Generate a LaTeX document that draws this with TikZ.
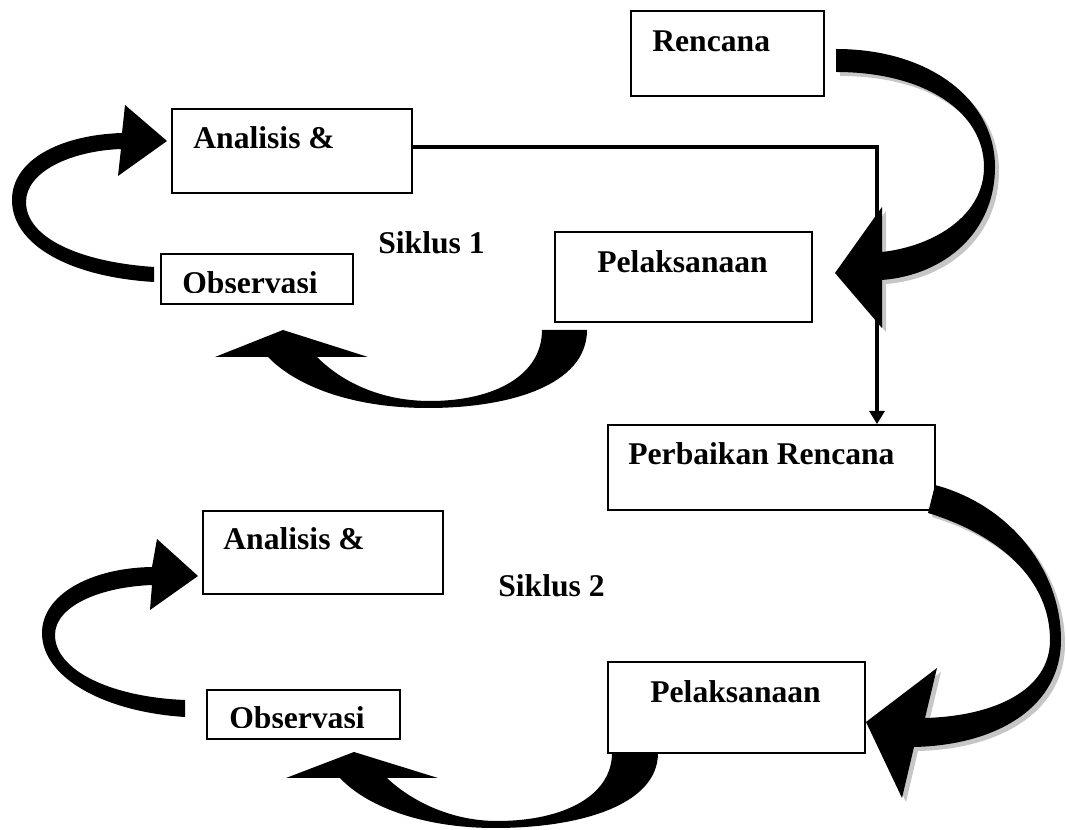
\documentclass[tikz,border=0pt]{standalone}
\usepackage{fontspec}
\setmainfont{Liberation Serif}
\usetikzlibrary{arrows.meta,fit}

\def\bendRA{(836,49) .. controls (930,49) and (995,100) .. (995,167) .. controls (995,232) and (945,275) .. (882,280) -- (882,328) -- (835,273) -- (882,207) -- (882,252) .. controls (935,246) and (984,215) .. (984,167) .. controls (984,112) and (925,72) .. (836,72) -- cycle}
\def\bendRB{(935,485) .. controls (1010,505) and (1061,570) .. (1061,640) .. controls (1061,705) and (1000,745) .. (914,747) -- (902,798) -- (866,722) -- (937,668) -- (925,718) .. controls (995,716) and (1050,690) .. (1050,640) .. controls (1050,580) and (1000,535) .. (928,513) -- cycle}

\begin{document}
\begin{tikzpicture}[x=0.02cm,y=-0.02cm,
    box/.style={draw,line width=1pt,inner sep=0pt},
    lbl/.style={anchor=base west,inner sep=0pt,font=\fontsize{18}{21}\selectfont\bfseries},
    conn/.style={line width=2pt,-{Triangle[width=8.5pt,length=7.5pt]}},
    shade/.style={fill=gray!45,shift={(4,4)}}]

\useasboundingbox (0,0) rectangle (1066,830);

\node[box,fit={(631,11) (824,96)}] (ren) {};
\node[box,fit={(172,109) (412,193)}] (ana1) {};
\node[box,fit={(161,254) (353,304)}] (obs1) {};
\node[box,fit={(555,232) (812,322)}] (pel1) {};
\node[box,fit={(608,425) (935,510)}] (perb) {};
\node[box,fit={(203,511) (443,594)}] (ana2) {};
\node[box,fit={(207,690) (400,739)}] (obs2) {};
\node[box,fit={(608,662) (865,753)}] (pel2) {};

\node[lbl] (tren) at (652,52) {Rencana};
\node[lbl] (tana1) at (193,149) {Analisis \&};
\node[lbl] (tpel1) at (597,273) {Pelaksanaan};
\node[lbl] (tsik1) at (378,254) {Siklus 1};
\node[lbl] (tperb) at (628,465) {Perbaikan Rencana};
\node[lbl] (tana2) at (223,550) {Analisis \&};
\node[lbl] (tsik2) at (498,597) {Siklus 2};
\node[lbl] (tpel2) at (650,703) {Pelaksanaan};
\begin{scope}
  \clip (161,254) rectangle (353,293);
  \node[lbl] (tobs1) at (182,294) {Observasi};
\end{scope}
\begin{scope}
  \clip (207,690) rectangle (400,728);
  \node[lbl] (tobs2) at (229,729) {Observasi};
\end{scope}

\coordinate (turn) at (877,147);
\draw[conn] (ana1.east |- turn) -- (turn) -- (turn |- perb.north);

\fill[shade] \bendRA;
\fill \bendRA;
\fill[shade] \bendRB;
\fill \bendRB;

\fill (154,282) .. controls (70,277) and (12,245) .. (12,200) .. controls (12,160) and (60,135) .. (122,133) -- (125,105) -- (167,141) -- (118,176) -- (121,149) .. controls (70,151) and (26,172) .. (26,202) .. controls (26,238) and (80,262) .. (154,267) -- cycle;
\fill (185,717) .. controls (105,712) and (42,678) .. (42,633) .. controls (42,595) and (90,568) .. (152,567) -- (157,539) -- (198,576) -- (150,610) -- (152,585) .. controls (100,587) and (55,606) .. (55,635) .. controls (55,670) and (110,697) .. (185,700) -- cycle;

\fill (587,330) .. controls (587,385) and (510,408) .. (428,408) .. controls (350,408) and (295,385) .. (268,357) -- (215,357) -- (283,330) -- (368,357) -- (317,357) .. controls (345,385) and (385,401) .. (430,401) .. controls (495,401) and (542,375) .. (542,330) -- cycle;
\fill (658,753) .. controls (658,805) and (580,828) .. (495,828) .. controls (420,828) and (365,805) .. (340,778) -- (286,778) -- (354,752) -- (438,778) -- (387,778) .. controls (410,800) and (450,821) .. (497,821) .. controls (565,821) and (612,795) .. (612,753) -- cycle;

\end{tikzpicture}
\end{document}
